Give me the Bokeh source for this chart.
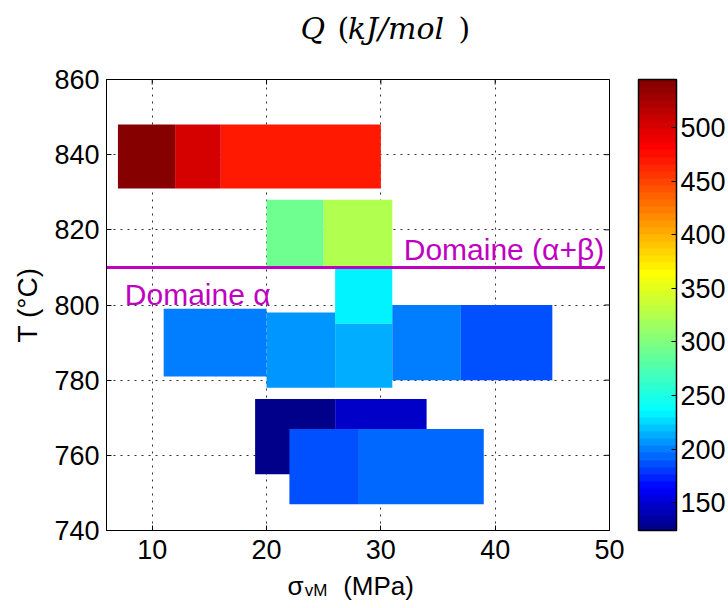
import numpy as np
from bokeh.plotting import figure
from bokeh.layouts import column
from bokeh.models import (Range1d, ColumnDataSource, LinearColorMapper, ColorBar,
                          FixedTicker, Label)
from bokeh.core.properties import value
from bokeh.embed import file_html
from bokeh.resources import INLINE

# ---- data ----
sigma_left  = [7, 12, 16, 20, 25, 26, 11, 20, 26, 31, 37, 19, 26, 22, 28]
sigma_right = [12, 16, 30, 25, 31, 31, 20, 26, 31, 37, 45, 26, 34, 28, 39]
T_bottom    = [831, 831, 831, 810, 810, 795, 781, 778, 778, 780, 780, 755, 755, 747, 747]
T_top       = [848, 848, 848, 828, 828, 810, 799, 798, 795, 800, 800, 775, 775, 767, 767]
Q_values    = [545, 500, 470, 289, 324, 231, 198, 204, 211, 199, 186, 124, 144, 185, 192]

boundary_T = 810
boundary_sigma = [6, 49.6]

x_ticks = [10, 20, 30, 40, 50]
y_ticks = [740, 760, 780, 800, 820, 840, 860]
cbar_ticks = [150, 200, 250, 300, 350, 400, 450, 500]
cbar_low, cbar_high = 124, 545
X_MIN, X_MAX = 6, 50
Y_MIN, Y_MAX = 740, 860

# colormap (jet, non-uniformly stretched as in the picture)
anchor_vals = [124, 164, 236, 364, 481, 545]
anchor_t = [0, 0.125, 0.375, 0.625, 0.875, 1.0]

def jet(t):
    r = np.clip(1.5 - abs(4 * t - 3), 0, 1)
    g = np.clip(1.5 - abs(4 * t - 2), 0, 1)
    b = np.clip(1.5 - abs(4 * t - 1), 0, 1)
    return "#%02x%02x%02x" % (int(round(r * 255)), int(round(g * 255)), int(round(b * 255)))

n_colors = 64
band_centers = cbar_low + (np.arange(n_colors) + 0.5) * (cbar_high - cbar_low) / n_colors
palette = [jet(np.interp(v, anchor_vals, anchor_t)) for v in band_centers]

mapper = LinearColorMapper(palette=palette, low=cbar_low, high=cbar_high)

src = ColumnDataSource(dict(left=sigma_left, right=sigma_right, bottom=T_bottom,
                            top=T_top, Q=Q_values))

FONT = "Liberation Sans"
MAG = "#c000c0"

# ---------------- main plot ----------------
p = figure(output_backend="svg", toolbar_location=None,
           frame_width=503, frame_height=451,
           min_border_left=106, min_border_right=111, min_border_top=20, min_border_bottom=41,
           x_range=Range1d(X_MIN, X_MAX), y_range=Range1d(Y_MIN, Y_MAX))

p.quad(left="left", right="right", bottom="bottom", top="top", source=src,
       fill_color={"field": "Q", "transform": mapper}, line_color=None)

p.line(boundary_sigma, [boundary_T, boundary_T], line_color=MAG, line_width=3)

# inward tick marks on the top and right edges of the box
p.ray(x=x_ticks, y=[Y_MAX] * len(x_ticks), length=5, length_units="screen",
      angle=-np.pi / 2, line_color="black", line_width=1)
p.ray(x=[X_MAX] * len(y_ticks), y=y_ticks, length=5, length_units="screen",
      angle=np.pi, line_color="black", line_width=1)

xax = p.xaxis[0]
yax = p.yaxis[0]
for ax in (xax, yax):
    ax.major_tick_in = 5
    ax.major_tick_out = 0
    ax.minor_tick_line_color = None
    ax.major_tick_line_color = "black"
    ax.axis_line_color = "black"
    ax.major_label_text_font = FONT
    ax.major_label_text_font_size = "27px"
    ax.major_label_text_color = "black"

xax.ticker = FixedTicker(ticks=x_ticks)
yax.ticker = FixedTicker(ticks=y_ticks)
xax.major_label_standoff = 9
yax.major_label_standoff = 7
yax.axis_label = "T (°C)"
yax.axis_label_text_font = FONT
yax.axis_label_text_font_size = "28px"
yax.axis_label_text_font_style = "normal"
yax.axis_label_text_color = "black"
yax.axis_label_standoff = 8

p.xgrid.ticker = FixedTicker(ticks=x_ticks)
p.ygrid.ticker = FixedTicker(ticks=y_ticks)
for g in (p.xgrid[0], p.ygrid[0]):
    g.grid_line_color = "black"
    g.grid_line_dash = "2 5"
    g.grid_line_alpha = 0.8

p.outline_line_color = "black"
p.outline_line_alpha = 1
p.background_fill_color = "white"

cb = ColorBar(color_mapper=mapper, ticker=FixedTicker(ticks=cbar_ticks),
              width=38, height=451, padding=0, margin=0,
              bar_line_color="black", bar_line_width=1.5,
              major_label_text_font=FONT, major_label_text_font_size="27px",
              major_label_text_color="black",
              major_tick_line_color="black", major_tick_in=5, major_tick_out=0,
              minor_tick_line_color=None, label_standoff=4,
              border_line_color=None, background_fill_alpha=0, location=(29, 0))
p.add_layout(cb, "right")

# domain labels
p.add_layout(Label(x=32, y=814.85, text="Domaine (α+β)", text_color=MAG,
                   text_font=FONT, text_font_size="30px", text_baseline="middle"))
p.add_layout(Label(x=7.6, y=802.85, text="Domaine α", text_color=MAG,
                   text_font=FONT, text_font_size="30px", text_baseline="middle"))

# ---------------- title / x-label strips ----------------
def strip(h, y0, y1):
    f = figure(output_backend="svg", toolbar_location=None,
               frame_width=503, frame_height=h,
               min_border_left=106, min_border_right=111, min_border_top=0, min_border_bottom=0,
               x_range=Range1d(X_MIN, X_MAX), y_range=Range1d(y0, y1),
               x_axis_location=None, y_axis_location=None)
    f.grid.visible = False
    f.outline_line_color = None
    return f

TF = "DejaVu Serif"
title_fig = strip(59, 59, 0)
title_parts = [(22.97, "Q", "italic"), (26.2, "(", "normal"),
               (27.1, "kJ/mol", "italic"), (36.8, ")", "normal")]
for xx, txt, style in title_parts:
    title_fig.text(x=[xx], y=[28], text=[txt], text_font=value(TF), text_font_size="30px",
                   text_font_style=style, text_color="black", text_baseline="middle")

xlab_fig = strip(29, 600, 571)
xlab_fig.text(x=[21.83], y=[585], text=["σ"], text_font=value(FONT), text_font_size="26px",
              text_color="black", text_baseline="middle")
xlab_fig.text(x=[23.35], y=[590], text=["vM"], text_font=value(FONT), text_font_size="17px",
              text_color="black", text_baseline="middle")
xlab_fig.text(x=[26.7], y=[585], text=["(MPa)"], text_font=value(FONT), text_font_size="26px",
              text_color="black", text_baseline="middle")

layout = column(title_fig, p, xlab_fig, spacing=0)
open("out.html", "w").write(file_html(layout, INLINE))
